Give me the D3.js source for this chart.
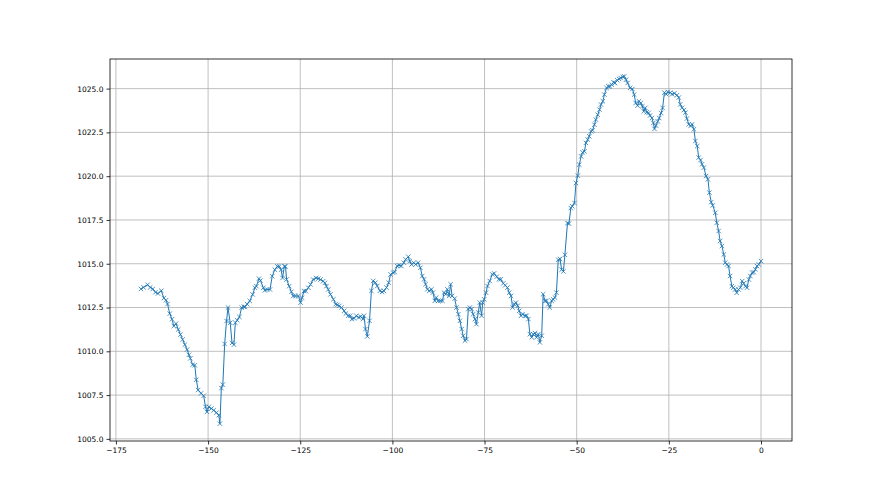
<!DOCTYPE html>
<html>
<head>
<meta charset="utf-8">
<title>Pressure trace</title>
<script src="https://d3js.org/d3.v7.min.js"></script>
<style>
  body { margin: 0; background: #fff; }
  .tick text { font-family: 'DejaVu Sans', sans-serif; font-size: 7.5px; fill: #000; }
  .grid line { stroke: #b0b0b0; stroke-width: 0.8; }
</style>
</head>
<body>
<svg id="chart"></svg>
<script>
// hours relative to now
const hours = [
  -168.2, -167.5, -166.4, -165.7, -165.0, -164.3, -163.6, -162.7, -162.0, -161.4,
  -161.0, -160.4, -159.8, -159.3, -158.7, -158.1, -157.5, -156.9, -156.3, -155.7,
  -155.2, -154.8, -154.2, -153.6, -153.2, -152.7, -151.9, -151.2, -150.7, -150.3,
  -149.8, -149.1, -148.5, -147.7, -147.1, -146.8, -146.4, -146.0, -145.5, -145.0,
  -144.6, -144.0, -143.5, -143.0, -142.6, -142.1, -141.5, -140.9, -140.3,
  -140.0, -139.4, -138.7, -137.9, -137.3, -136.9, -136.2, -135.8, -135.0, -134.6,
  -134.0, -133.2, -132.6, -131.9, -131.2, -130.7, -130.2, -129.8, -129.3, -129.0,
  -128.7, -128.0, -127.4, -126.9, -126.3, -125.5, -124.9, -124.5, -124.0, -123.5,
  -122.8, -122.2, -121.5, -120.7, -120.1, -119.5, -118.8, -118.3, -117.9, -117.4,
  -116.8, -116.0, -115.4, -114.9, -114.4, -113.8, -113.1, -112.6, -112.0,
  -111.4, -111.0, -110.4, -109.8, -109.1, -108.6, -108.0, -107.7, -107.3, -106.8,
  -106.2, -105.7, -105.2, -104.6, -104.1, -103.4, -102.8, -102.3, -101.6, -101.0,
  -100.5, -99.8, -99.4, -98.7, -98.2, -97.6, -96.9, -96.4, -95.7, -95.3,
  -94.8, -94.2, -93.7, -93.0, -92.4, -91.9, -91.4, -91.0, -90.5, -90.0,
  -89.4, -89.0, -88.5, -88.1, -87.6, -87.0, -86.4, -86.0, -85.5, -85.1,
  -84.6, -84.2, -83.8,
  -83.1, -82.6, -82.1, -81.7, -81.2, -80.8, -80.3, -79.9, -79.4, -79.0,
  -78.5, -78.1, -77.6, -77.2, -76.7, -76.3, -75.8, -75.5, -75.1, -74.6,
  -74.2, -73.6, -72.9, -72.4, -71.7, -71.1, -70.6, -69.9, -69.4, -68.8,
  -68.3, -67.8, -67.4, -66.9, -66.5, -66.0, -65.6, -65.1, -64.7, -64.0,
  -63.6, -63.1, -62.7, -62.2, -61.8, -61.3, -60.9, -60.4, -60.0, -59.5,
  -59.1, -58.6, -58.2, -57.7, -57.3, -56.8, -56.4, -55.9, -55.5,
  -55.0, -54.5, -54.1, -53.6, -53.2, -52.5, -52.1, -51.6, -51.2, -50.6,
  -50.2, -49.7, -49.3, -48.8, -48.4, -47.9, -47.5, -47.0, -46.6, -46.1,
  -45.7, -45.2, -44.8, -44.3, -43.8, -43.4, -42.9, -42.5, -41.9, -41.4,
  -41.0, -40.5, -40.0, -39.6, -39.0, -38.5, -38.1, -37.5, -37.1, -36.6,
  -36.2, -35.5, -34.9, -34.4, -34.0, -33.5, -33.1, -32.6, -32.2, -31.8,
  -31.4, -31.0, -30.5, -30.1, -29.6, -29.2, -28.9, -28.5, -28.0, -27.6,
  -27.1, -26.7,
  -26.2, -25.7, -25.3, -24.6, -24.1, -23.5, -22.8, -22.3, -21.9, -21.4,
  -20.9, -20.5, -20.1, -19.6, -19.1, -18.7, -18.2, -17.8, -17.3, -16.9,
  -16.4, -16.0, -15.5, -14.9, -14.4, -14.0, -13.5, -13.1, -12.4, -12.0,
  -11.5, -11.1, -10.6, -10.1, -9.7, -9.2, -8.8, -8.4, -7.9, -7.5,
  -7.0, -6.6, -6.1, -5.6, -5.1, -4.7, -4.2, -3.8, -3.3, -2.9,
  -2.4, -2.0, -1.5, -1.1, -0.6, 0.0
];

// pressure in hPa, same order as hours
const pressure = [
  1013.56, 1013.65, 1013.80, 1013.65, 1013.56, 1013.37, 1013.30, 1013.46, 1013.04, 1012.92,
  1012.70, 1012.15, 1011.83, 1011.44, 1011.58, 1011.25, 1010.96, 1010.67, 1010.38, 1010.10,
  1009.80, 1009.60, 1009.23, 1009.20, 1008.37, 1007.79, 1007.60, 1007.46, 1006.83, 1006.54,
  1006.83, 1006.73, 1006.63, 1006.50, 1006.35, 1005.87, 1007.90, 1008.10, 1010.42, 1011.73,
  1012.50, 1011.63, 1010.48, 1010.38, 1011.63, 1011.77, 1011.96, 1012.50, 1012.54,
  1012.54, 1012.69, 1012.88, 1013.25, 1013.63, 1013.72, 1014.15, 1014.04, 1013.63, 1013.48,
  1013.53, 1013.53, 1014.29, 1014.66, 1014.85, 1014.85, 1014.66, 1014.19, 1014.85, 1014.85,
  1014.10, 1013.72, 1013.40, 1013.16, 1013.16, 1013.16, 1012.78, 1013.06, 1013.44, 1013.44,
  1013.63, 1013.82, 1014.10, 1014.19, 1014.15, 1014.10, 1014.00, 1013.91, 1013.72, 1013.53,
  1013.25, 1012.97, 1012.69, 1012.65, 1012.59, 1012.50, 1012.31, 1012.16, 1012.03,
  1012.03, 1011.84, 1011.88, 1012.03, 1011.93, 1011.99, 1011.84, 1012.03, 1011.27, 1010.85,
  1011.74, 1013.45, 1014.02, 1013.92, 1013.73, 1013.45, 1013.39, 1013.45, 1013.64, 1013.92,
  1014.39, 1014.49, 1014.53, 1014.87, 1014.91, 1014.87, 1015.06, 1015.25, 1015.40, 1015.15,
  1014.96, 1015.06, 1014.96, 1015.06, 1014.77, 1014.30, 1014.11, 1013.83, 1013.54, 1013.45,
  1013.54, 1013.35, 1012.88, 1013.07, 1012.88, 1012.88, 1012.88, 1013.35, 1013.26, 1013.54,
  1013.16, 1013.83, 1013.16,
  1013.01, 1012.50, 1012.12, 1011.74, 1011.27, 1010.89, 1010.61, 1010.70, 1012.41, 1012.50,
  1012.41, 1012.12, 1011.84, 1011.55, 1012.22, 1012.78, 1012.03, 1012.78, 1012.97, 1013.35,
  1013.73, 1014.02, 1014.39, 1014.45, 1014.26, 1014.11, 1014.11, 1013.88, 1013.77, 1013.64,
  1013.35, 1013.16, 1012.50, 1012.69, 1012.78, 1012.60, 1012.31, 1012.03, 1012.12, 1012.03,
  1012.03, 1011.84, 1010.98, 1010.80, 1010.98, 1011.04, 1010.80, 1010.98, 1010.51, 1010.89,
  1013.26, 1012.88, 1012.88, 1012.69, 1012.50, 1012.88, 1012.97, 1013.07, 1013.35,
  1015.23, 1015.27, 1014.66, 1014.56, 1015.51, 1017.32, 1017.29, 1018.18, 1018.28, 1018.47,
  1019.61, 1020.03, 1020.66, 1021.13, 1021.36, 1021.42, 1021.90, 1022.09, 1022.28, 1022.56,
  1022.62, 1022.94, 1023.23, 1023.51, 1023.80, 1024.09, 1024.28, 1024.66, 1025.04, 1025.13,
  1025.13, 1025.23, 1025.36, 1025.32, 1025.48, 1025.55, 1025.61, 1025.67, 1025.70, 1025.51,
  1025.32, 1025.04, 1024.98, 1024.66, 1024.18, 1024.03, 1024.28, 1024.18, 1023.99, 1023.70,
  1023.90, 1023.65, 1023.61, 1023.46, 1023.32, 1023.04, 1022.70, 1022.89, 1023.13, 1023.32,
  1023.61, 1023.90,
  1024.77, 1024.68, 1024.81, 1024.77, 1024.68, 1024.73, 1024.62, 1024.49, 1024.10, 1023.91,
  1023.78, 1023.63, 1023.29, 1022.96, 1022.87, 1022.96, 1022.68, 1022.01, 1021.72, 1021.06,
  1020.92, 1020.68, 1020.49, 1020.01, 1019.82, 1019.06, 1018.52, 1018.33, 1017.91, 1017.34,
  1016.87, 1016.30, 1016.01, 1015.53, 1015.06, 1014.96, 1014.87, 1014.30, 1013.72, 1013.63,
  1013.53, 1013.34, 1013.53, 1013.63, 1014.01, 1013.88, 1013.72, 1013.63, 1014.10, 1014.30,
  1014.49, 1014.52, 1014.68, 1014.87, 1014.96, 1015.15
];

const xTicks = [-175, -150, -125, -100, -75, -50, -25, 0];
const yTicks = [1005, 1007.5, 1010, 1012.5, 1015, 1017.5, 1020, 1022.5, 1025];

const width = 880, height = 495;
const margin = { top: 59, right: 88, bottom: 54, left: 110 };
const data = hours.map((h, i) => ({ h: h, p: pressure[i] }));

const svg = d3.select("#chart").attr("width", width).attr("height", height);

// matplotlib style 5% padding on both axes
const xExt = d3.extent(hours), yExt = d3.extent(pressure);
const xPad = (xExt[1] - xExt[0]) * 0.05, yPad = (yExt[1] - yExt[0]) * 0.05;

const x = d3.scaleLinear()
    .domain([xExt[0] - xPad, xExt[1] + xPad])
    .range([margin.left, width - margin.right]);
const y = d3.scaleLinear()
    .domain([yExt[0] - yPad, yExt[1] + yPad])
    .range([height - margin.bottom, margin.top]);

// grid
svg.append("g").attr("class", "grid")
    .selectAll("line").data(xTicks).join("line")
    .attr("x1", d => x(d)).attr("x2", d => x(d))
    .attr("y1", margin.top).attr("y2", height - margin.bottom);
svg.append("g").attr("class", "grid")
    .selectAll("line").data(yTicks).join("line")
    .attr("x1", margin.left).attr("x2", width - margin.right)
    .attr("y1", d => y(d)).attr("y2", d => y(d));

// line + x markers
svg.append("path")
    .datum(data)
    .attr("fill", "none")
    .attr("stroke", "#1f77b4")
    .attr("stroke-width", 1)
    .attr("d", d3.line().x(d => x(d.h)).y(d => y(d.p)));

const m = 2.2;
svg.append("g")
    .selectAll("path").data(data).join("path")
    .attr("d", d => {
        const cx = x(d.h), cy = y(d.p);
        return `M${cx - m},${cy - m}L${cx + m},${cy + m}M${cx - m},${cy + m}L${cx + m},${cy - m}`;
    })
    .attr("stroke", "#1f77b4")
    .attr("stroke-width", 0.8)
    .attr("fill", "none");

// axes
const xAxis = svg.append("g")
    .attr("transform", `translate(0,${height - margin.bottom})`)
    .call(d3.axisBottom(x).tickValues(xTicks).tickSize(3.5).tickPadding(3).tickFormat(d3.format("d")));
const yAxis = svg.append("g")
    .attr("transform", `translate(${margin.left},0)`)
    .call(d3.axisLeft(y).tickValues(yTicks).tickSize(3.5).tickPadding(3).tickFormat(d3.format(".1f")));
[xAxis, yAxis].forEach(a => {
    a.select(".domain").remove();
    a.selectAll(".tick line").attr("stroke", "#000").attr("stroke-width", 0.8);
});
xAxis.selectAll(".tick text").text(d => d < 0 ? "\u2212" + Math.abs(d) : d);

// frame
svg.append("rect")
    .attr("x", margin.left).attr("y", margin.top)
    .attr("width", width - margin.left - margin.right)
    .attr("height", height - margin.top - margin.bottom)
    .attr("fill", "none").attr("stroke", "#000").attr("stroke-width", 0.8);
</script>
</body>
</html>
